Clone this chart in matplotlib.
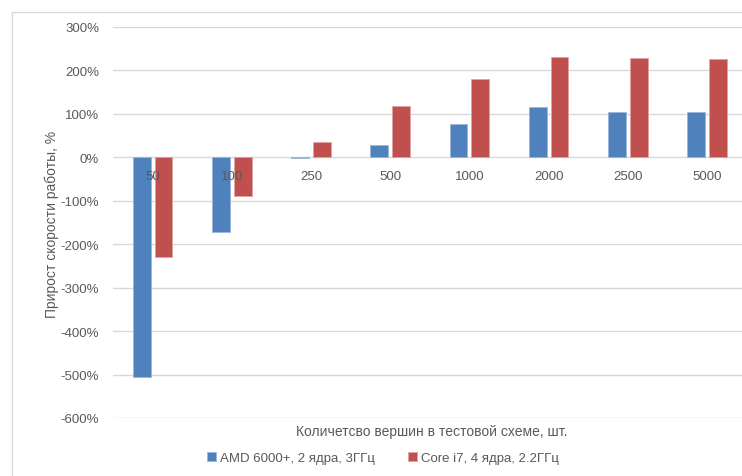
import numpy as np
import matplotlib.pyplot as plt
from matplotlib.patches import Rectangle
from matplotlib.ticker import FuncFormatter

W, H = 742, 477

categories = ["50", "100", "250", "500", "1000", "2000", "2500", "5000"]
amd_gain = [-506, -173, -2, 29, 77, 117, 104, 104]
i7_gain = [-229, -88, 36, 119, 181, 232, 228, 226]
series_names = ["AMD 6000+, 2 ядра, 3ГГц", "Core i7, 4 ядра, 2.2ГГц"]
y_ticks = list(range(-600, 301, 100))

BLUE = "#4F81BD"
RED = "#C0504D"
GRID = "#D9D9D9"
TEXT = "#595959"

plt.rcParams["font.family"] = ["Liberation Sans", "DejaVu Sans"]

fig = plt.figure(figsize=(W / 100, H / 100), dpi=100)

# outer chart frame (cropped at right/bottom)
fig.patches.append(Rectangle((12 / W, -0.05), 1.0, 1 - 13 / H + 0.05,
                             transform=fig.transFigure, fill=False,
                             edgecolor=GRID, linewidth=1.0))

left, right = 113 / W, 746.6 / W
top, bottom = 1 - 28 / H, 1 - 419 / H
ax = fig.add_axes([left, bottom, right - left, top - bottom])

x = np.arange(len(categories))
bw = 0.225
gap = 0.05
ax.bar(x - (bw + gap) / 2, amd_gain, bw, color=BLUE, edgecolor="#9DB6D9",
       linewidth=0.6, label=series_names[0], zorder=3)
ax.bar(x + (bw + gap) / 2, i7_gain, bw, color=RED, edgecolor="#E0A3A1",
       linewidth=0.6, label=series_names[1], zorder=3)

ax.set_xlim(-0.5, len(categories) - 0.5)
ax.set_ylim(-600, 300)
ax.set_yticks(y_ticks)
ax.yaxis.set_major_formatter(FuncFormatter(lambda v, _: f"{int(v)}%"))
ax.tick_params(axis="y", length=0, pad=10, labelsize=9.5, labelcolor=TEXT)
ax.set_xticks([])
ax.grid(axis="y", color=GRID, linewidth=1.0, zorder=0)
for s in ax.spines.values():
    s.set_visible(False)

for i, c in enumerate(categories):
    ax.annotate(c, (i, 0), xytext=(0, -9), textcoords="offset points",
                ha="center", va="top", fontsize=9.5, color=TEXT, zorder=4)

fig.text(52 / W, 1 - 224 / H, "Прирост скорости работы, %", rotation=90,
         ha="center", va="center", fontsize=10, color=TEXT)
fig.text(432 / W, 1 - 432 / H, "Количетсво вершин в тестовой схеме, шт.",
         ha="center", va="center", fontsize=10, color=TEXT)

leg = fig.legend(loc="center", bbox_to_anchor=(383 / W, 1 - 459 / H), ncol=2,
                 frameon=False, fontsize=9.5, handlelength=0.7, handleheight=0.7,
                 handletextpad=0.3, columnspacing=2.5)
for t in leg.get_texts():
    t.set_color(TEXT)

fig.savefig("out.png", dpi=100)
